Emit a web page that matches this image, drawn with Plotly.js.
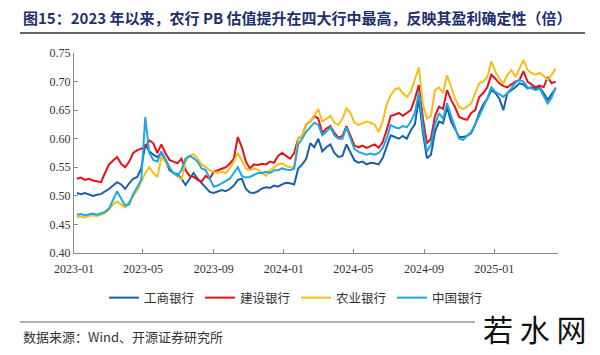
<!DOCTYPE html>
<html>
<head>
<meta charset="utf-8">
<script src="https://cdn.plot.ly/plotly-3.0.1.min.js"></script>
<style>html,body{margin:0;padding:0;background:#fff;}#chart{width:600px;height:355px;}</style>
</head>
<body>
<div id="chart"></div>
<script>
const dates = [
"2023-01-06","2023-01-13","2023-01-20","2023-01-27","2023-02-03","2023-02-10","2023-02-17","2023-02-24","2023-03-03","2023-03-10",
"2023-03-17","2023-03-24","2023-03-31","2023-04-07","2023-04-14","2023-04-21","2023-04-28","2023-05-05","2023-05-12","2023-05-19",
"2023-05-26","2023-06-02","2023-06-09","2023-06-16","2023-06-23","2023-06-30","2023-07-07","2023-07-14","2023-07-21","2023-07-28",
"2023-08-04","2023-08-11","2023-08-18","2023-08-25","2023-09-01","2023-09-08","2023-09-15","2023-09-22","2023-09-29","2023-10-06",
"2023-10-13","2023-10-20","2023-10-27","2023-11-03","2023-11-10","2023-11-17","2023-11-24","2023-12-01","2023-12-08","2023-12-15",
"2023-12-22","2023-12-29","2024-01-05","2024-01-12","2024-01-19","2024-01-26","2024-02-02","2024-02-09","2024-02-16","2024-02-23",
"2024-03-01","2024-03-08","2024-03-15","2024-03-22","2024-03-29","2024-04-05","2024-04-12","2024-04-19","2024-04-26","2024-05-03",
"2024-05-10","2024-05-17","2024-05-24","2024-05-31","2024-06-07","2024-06-14","2024-06-21","2024-06-28","2024-07-05","2024-07-12",
"2024-07-19","2024-07-26","2024-08-02","2024-08-09","2024-08-16","2024-08-23","2024-08-30","2024-09-06","2024-09-13","2024-09-20",
"2024-09-27","2024-10-04","2024-10-11","2024-10-18","2024-10-25","2024-11-01","2024-11-08","2024-11-15","2024-11-22","2024-11-29",
"2024-12-06","2024-12-13","2024-12-20","2024-12-27","2025-01-03","2025-01-10","2025-01-17","2025-01-24","2025-01-31","2025-02-07",
"2025-02-14","2025-02-21","2025-02-28","2025-03-07","2025-03-14","2025-03-21","2025-03-28","2025-04-04","2025-04-11","2025-04-18"];

const seriesNames = ["工商银行","建设银行","农业银行","中国银行"];

const icbc = [
0.505,0.503,0.505,0.502,0.500,0.502,0.503,0.508,0.512,0.518,
0.524,0.520,0.512,0.522,0.530,0.533,0.548,0.590,0.578,0.572,
0.568,0.575,0.563,0.545,0.540,0.538,0.530,0.519,0.530,0.540,
0.530,0.522,0.515,0.507,0.505,0.508,0.510,0.508,0.512,0.518,
0.528,0.530,0.512,0.506,0.505,0.508,0.513,0.515,0.514,0.518,
0.516,0.520,0.523,0.522,0.520,0.548,0.555,0.565,0.592,0.585,
0.600,0.578,0.585,0.590,0.575,0.568,0.570,0.590,0.575,0.562,
0.558,0.560,0.555,0.558,0.557,0.555,0.566,0.585,0.606,0.603,
0.600,0.605,0.600,0.615,0.625,0.670,0.610,0.566,0.572,0.612,
0.630,0.627,0.655,0.630,0.615,0.603,0.603,0.605,0.610,0.625,
0.645,0.660,0.670,0.685,0.680,0.670,0.650,0.680,0.685,0.690,
0.697,0.695,0.688,0.690,0.688,0.690,0.680,0.668,0.678,0.688];

const ccb = [
0.530,0.532,0.528,0.530,0.527,0.526,0.524,0.540,0.555,0.562,
0.568,0.556,0.550,0.560,0.575,0.580,0.582,0.585,0.597,0.592,
0.575,0.590,0.575,0.563,0.560,0.557,0.565,0.545,0.535,0.533,
0.528,0.525,0.535,0.530,0.542,0.545,0.548,0.550,0.556,0.565,
0.603,0.585,0.560,0.548,0.555,0.554,0.556,0.555,0.560,0.558,
0.570,0.575,0.570,0.565,0.575,0.600,0.605,0.625,0.630,0.640,
0.635,0.610,0.618,0.622,0.610,0.602,0.605,0.622,0.605,0.588,
0.585,0.588,0.584,0.587,0.590,0.584,0.594,0.615,0.640,0.642,
0.645,0.640,0.645,0.650,0.670,0.694,0.636,0.592,0.600,0.640,
0.656,0.652,0.685,0.668,0.655,0.638,0.635,0.633,0.645,0.650,
0.673,0.680,0.690,0.712,0.705,0.697,0.692,0.690,0.695,0.700,
0.703,0.718,0.700,0.695,0.690,0.693,0.690,0.708,0.697,0.700];

const abc = [
0.463,0.464,0.462,0.465,0.466,0.465,0.467,0.470,0.476,0.485,
0.490,0.485,0.480,0.490,0.500,0.510,0.525,0.540,0.550,0.540,
0.533,0.568,0.560,0.550,0.540,0.535,0.528,0.560,0.570,0.573,
0.565,0.555,0.550,0.545,0.542,0.540,0.542,0.540,0.548,0.560,
0.575,0.560,0.548,0.545,0.548,0.546,0.540,0.535,0.545,0.550,
0.555,0.557,0.552,0.550,0.550,0.600,0.605,0.625,0.630,0.640,
0.652,0.630,0.635,0.640,0.628,0.624,0.635,0.653,0.645,0.628,
0.624,0.627,0.630,0.628,0.625,0.612,0.630,0.660,0.676,0.686,
0.689,0.680,0.673,0.682,0.705,0.725,0.660,0.635,0.640,0.685,
0.690,0.680,0.711,0.690,0.670,0.656,0.652,0.656,0.662,0.680,
0.697,0.700,0.708,0.735,0.718,0.705,0.697,0.712,0.720,0.708,
0.722,0.738,0.720,0.715,0.712,0.715,0.710,0.703,0.712,0.723];

const boc = [
0.467,0.468,0.466,0.468,0.469,0.467,0.470,0.472,0.478,0.492,
0.508,0.495,0.483,0.485,0.503,0.515,0.528,0.638,0.575,0.563,
0.560,0.578,0.565,0.550,0.540,0.535,0.545,0.565,0.570,0.566,
0.560,0.548,0.545,0.530,0.516,0.518,0.522,0.525,0.530,0.540,
0.550,0.535,0.532,0.533,0.536,0.540,0.540,0.542,0.540,0.545,
0.545,0.548,0.546,0.545,0.548,0.590,0.600,0.612,0.620,0.628,
0.624,0.606,0.612,0.620,0.606,0.600,0.600,0.620,0.600,0.582,
0.577,0.575,0.572,0.574,0.572,0.575,0.584,0.600,0.624,0.620,
0.618,0.622,0.620,0.630,0.645,0.682,0.620,0.577,0.590,0.625,
0.645,0.635,0.662,0.640,0.620,0.600,0.598,0.605,0.612,0.625,
0.640,0.655,0.670,0.690,0.682,0.678,0.673,0.680,0.688,0.698,
0.703,0.700,0.690,0.688,0.685,0.688,0.675,0.662,0.672,0.690];

const colors = ["#1b5fab","#e5121b","#f6be16","#1ca8e3"];
const values = [icbc, ccb, abc, boc];

const traces = values.map((v, i) => ({
  x: dates, y: v, type: "scatter", mode: "lines", name: seriesNames[i],
  line: {color: colors[i], width: 2}
}));

const serif = "Liberation Serif, Times New Roman, serif";
const cjk = "Noto Sans CJK SC, sans-serif";

const layout = {
  width: 600, height: 355,
  margin: {l: 74, r: 42, t: 53, b: 102, pad: 0},
  paper_bgcolor: "#ffffff", plot_bgcolor: "#ffffff",
  showlegend: true,
  xaxis: {
    type: "date",
    range: ["2023-01-01", "2025-04-22"],
    tick0: "2023-01-01", dtick: "M4", tickformat: "%Y-%m",
    ticks: "inside", ticklen: 4, tickcolor: "#888",
    ticklabelstandoff: 5,
    showline: true, linecolor: "#888", linewidth: 1,
    showgrid: false, zeroline: false,
    tickfont: {family: serif, size: 12, color: "#333"}
  },
  yaxis: {
    range: [0.40, 0.75], dtick: 0.05, tick0: 0.40, tickformat: ".2f",
    ticks: "inside", ticklen: 4, tickcolor: "#888",
    showline: true, linecolor: "#888", linewidth: 1,
    showgrid: false, zeroline: false,
    tickfont: {family: serif, size: 12, color: "#333"}
  },
  legend: {
    orientation: "h", x: 30/484, xanchor: "left",
    y: (253-298)/200, yanchor: "middle",
    font: {family: cjk, size: 12.5, color: "#333"},
    entrywidth: 51, entrywidthmode: "pixels",
    traceorder: "normal", bgcolor: "rgba(0,0,0,0)"
  },
  shapes: [
    {type: "line", xref: "paper", yref: "paper", x0: (20-74)/484, x1: (585-74)/484,
     y0: (253-33)/200, y1: (253-33)/200, line: {color: "#333", width: 1.5}},
    {type: "line", xref: "paper", yref: "paper", x0: (20-74)/484, x1: (475-74)/484,
     y0: (253-322)/200, y1: (253-322)/200, line: {color: "#666", width: 1}}
  ],
  annotations: [
    {text: "<b>图15：2023 年以来，农行 PB 估值提升在四大行中最高，反映其盈利确定性（倍）</b>",
     xref: "paper", yref: "paper", x: (21-74)/484, y: (253-17)/200,
     xanchor: "left", yanchor: "middle", showarrow: false,
     font: {family: cjk, size: 15, color: "#1f2f6f"}},
    {text: "数据来源：Wind、开源证券研究所", xref: "paper", yref: "paper",
     x: (21-74)/484, y: (253-336)/200, xanchor: "left", yanchor: "middle",
     showarrow: false, font: {family: cjk, size: 13, color: "#333"}},
    {text: "若 水 网", xref: "paper", yref: "paper",
     x: (534-74)/484, y: (253-328)/200, xanchor: "center", yanchor: "middle",
     showarrow: false, font: {family: cjk, size: 30, color: "#111"}}
  ]
};

Plotly.newPlot("chart", traces, layout, {displayModeBar: false, staticPlot: true});
</script>
</body>
</html>
